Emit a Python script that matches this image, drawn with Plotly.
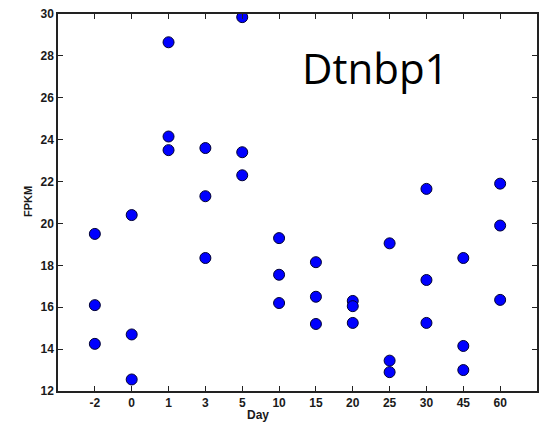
import plotly.graph_objects as go

days = ["-2", "0", "1", "3", "5", "10", "15", "20", "25", "30", "45", "60"]
rep1 = [19.5, 20.4, 28.65, 23.6, 29.85, 19.3, 18.15, 16.3, 19.05, 21.65, 18.35, 21.9]
rep2 = [16.1, 14.7, 24.15, 21.3, 23.4, 17.55, 16.5, 16.05, 13.45, 17.3, 14.15, 19.9]
rep3 = [14.25, 12.55, 23.5, 18.35, 22.3, 16.2, 15.2, 15.25, 12.9, 15.25, 13.0, 16.35]

xs = days * 3
ys = rep1 + rep2 + rep3

fig = go.Figure()
fig.add_trace(go.Scatter(
    x=xs, y=ys, mode="markers",
    marker=dict(color="#0000FF", size=11, line=dict(color="#000033", width=1)),
    showlegend=False,
))

FAM = "Liberation Sans, Arial, sans-serif"
tickfont = dict(family=FAM, size=12, color="#1a1a1a", weight=700)

fig.update_layout(
    width=540, height=422,
    margin=dict(l=58, r=3, t=14, b=31, autoexpand=False),
    paper_bgcolor="white", plot_bgcolor="white",
    xaxis=dict(
        type="category", categoryorder="array", categoryarray=days,
        range=[-1, 12], automargin=False,
        showgrid=False, zeroline=False,
        showline=True, linecolor="#222", linewidth=1.5, mirror="ticks",
        ticks="inside", ticklen=5, tickcolor="#222", tickwidth=1,
        tickfont=tickfont,
    ),
    yaxis=dict(
        range=[12, 30], dtick=2, automargin=False,
        showgrid=False, zeroline=False,
        showline=True, linecolor="#222", linewidth=1.5, mirror="ticks",
        ticks="inside", ticklen=5, tickcolor="#222", tickwidth=1,
        tickfont=tickfont,
    ),
    annotations=[
        dict(text="Dtnbp1", xref="paper", yref="paper", x=0.663, y=0.857,
             xanchor="center", yanchor="middle", showarrow=False,
             font=dict(family="Open Sans, Noto Sans, sans-serif", size=42, color="black")),
        dict(text="Day", xref="paper", yref="paper", x=(258 - 58) / 479, y=-24 / 377,
             xanchor="center", yanchor="middle", showarrow=False,
             font=dict(family=FAM, size=12, color="#1a1a1a", weight=700)),
        dict(text="FPKM", xref="paper", yref="paper", x=-30 / 479, y=(391 - 202) / 377,
             xanchor="center", yanchor="middle", showarrow=False, textangle=-90,
             font=dict(family=FAM, size=11, color="#1a1a1a", weight=700)),
    ],
)

fig.write_html(
    "out.html",
    config={"displayModeBar": False},
    post_script="document.body.style.margin='0';document.body.style.padding='0';document.body.style.overflow='hidden';",
)
